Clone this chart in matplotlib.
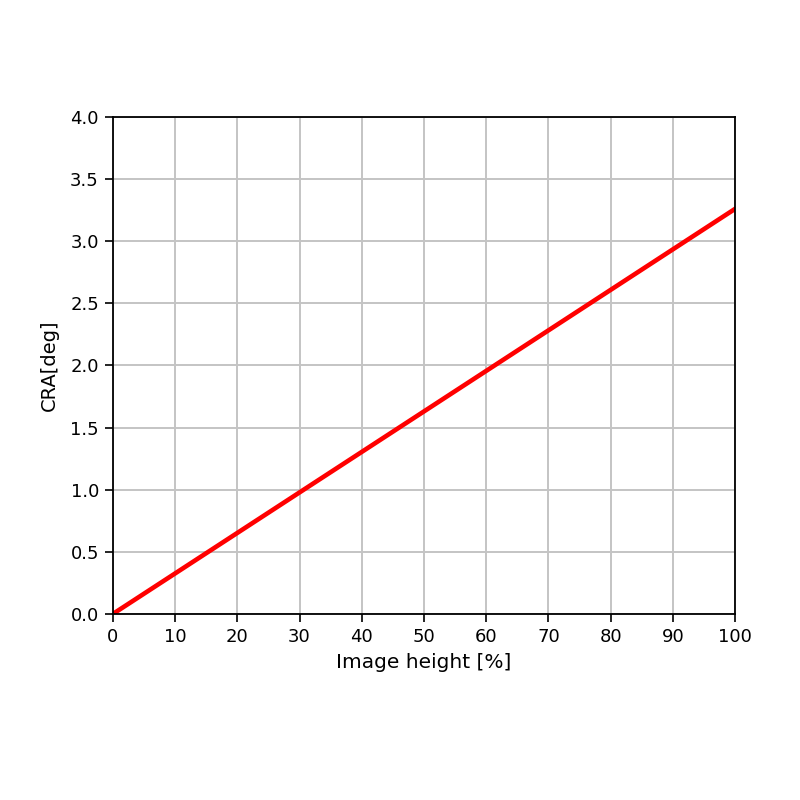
import matplotlib
matplotlib.use("Agg")
import matplotlib.pyplot as plt
import numpy as np

# Chief ray angle vs. relative image height
image_height = [0, 100]
cra_deg = [0.0, 3.26]

x_ticks = list(range(0, 101, 10))
y_ticks = [0.0, 0.5, 1.0, 1.5, 2.0, 2.5, 3.0, 3.5, 4.0]

plt.rcParams["font.size"] = 13

fig = plt.figure(figsize=(8, 8), dpi=100)
ax = fig.add_axes([0.141, 0.2325, 0.778, 0.6215])

ax.plot(image_height, cra_deg, color="red", linewidth=3.3)

ax.set_xlim(0, 100)
ax.set_ylim(0, 4.0)
ax.set_xticks(x_ticks)
ax.set_yticks(y_ticks)
ax.set_yticklabels([f"{v:.1f}" for v in y_ticks])
ax.tick_params(length=6, width=1.2, pad=4, labelsize=13)
ax.grid(True, color="#c4c4c4", linewidth=1.4)
ax.set_axisbelow(True)
for s in ax.spines.values():
    s.set_linewidth(1.3)

ax.set_xlabel("Image height [%]", fontsize=14.5, labelpad=5)
ax.set_ylabel("CRA[deg]", fontsize=14, labelpad=8)

fig.savefig("out.png", dpi=100)
